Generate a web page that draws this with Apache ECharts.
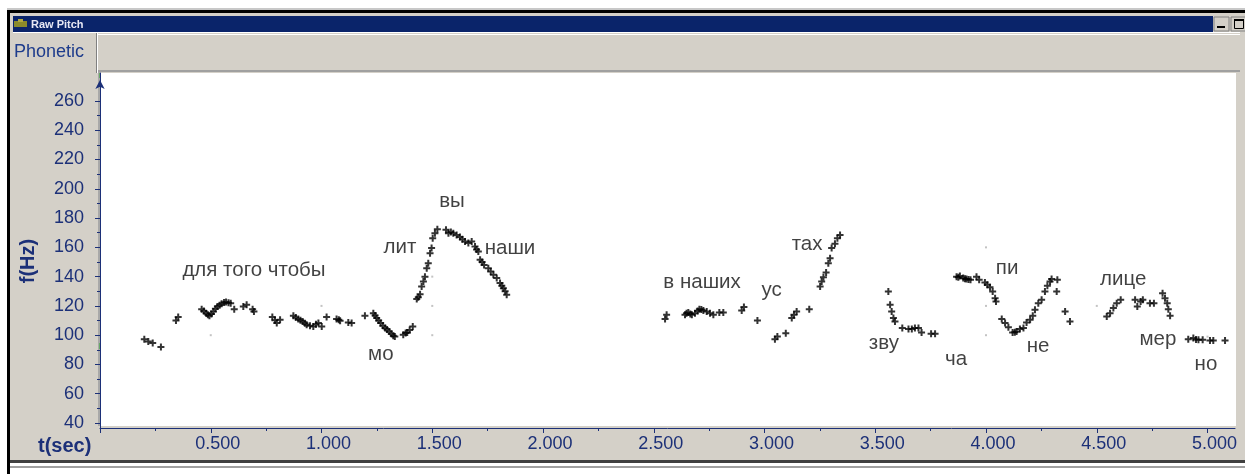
<!DOCTYPE html>
<html><head><meta charset="utf-8">
<script src="https://cdn.jsdelivr.net/npm/echarts@6/dist/echarts.min.js"></script>
<style>html,body{margin:0;padding:0;background:#fff}#c{width:1245px;height:474px}</style>
</head><body><div id="c"></div>
<script>
// ---- axis ticks ----
const xMajorTicks = [0, 0.5, 1.0, 1.5, 2.0, 2.5, 3.0, 3.5, 4.0, 4.5, 5.0];
const xLabelTicks = [0.5, 1.0, 1.5, 2.0, 2.5, 3.0, 3.5, 4.0, 4.5, 5.0];
const xMinorTicks = [0.25, 0.75, 1.25, 1.75, 2.25, 2.75, 3.25, 3.75, 4.25, 4.75];
const yMajorTicks = [40, 60, 80, 100, 120, 140, 160, 180, 200, 220, 240, 260];
const yMinorTicks = [50, 70, 90, 110, 130, 150, 170, 190, 210, 230, 250, 270];

// ---- pitch points [t(sec), f(Hz)] ----
const segA = [[0.200,97.3],[0.218,95.7],[0.238,94.6],[0.275,91.9]];
const segB = [[0.343,110.0],[0.353,112.4]];
const segC = [[0.459,117.8],[0.469,116.5],[0.479,115.0],[0.487,114.0],[0.494,113.2],[0.503,114.5],[0.512,116.2],[0.521,118.0],[0.530,119.6],[0.540,120.5],[0.549,121.4],[0.560,122.3],[0.569,122.6],[0.580,122.2],[0.590,121.9],[0.606,117.8],[0.647,119.6],[0.662,120.8],[0.689,117.8],[0.695,116.2]];
const segD = [[0.778,112.4],[0.790,110.2],[0.798,108.3],[0.813,110.5]];
const segE = [[0.873,113.2],[0.884,112.0],[0.895,111.0],[0.905,110.2],[0.915,109.4],[0.925,108.2],[0.933,107.1],[0.948,106.5],[0.963,106.0],[0.975,107.5],[0.986,108.3],[1.001,106.0],[1.023,112.4]];
const segF = [[1.068,111.0],[1.078,110.5],[1.084,109.8],[1.121,108.7],[1.136,108.3]];
const segG = [[1.196,113.2],[1.234,115.0],[1.242,113.5],[1.249,111.7],[1.258,110.0],[1.267,108.3],[1.277,106.5],[1.287,104.9],[1.296,103.8],[1.306,102.6],[1.315,101.0],[1.324,99.6],[1.331,99.1],[1.369,100.3],[1.380,101.5],[1.387,101.8],[1.398,103.5],[1.412,105.9]];
const segH = [[1.430,124.7],[1.437,126.0],[1.445,128.0],[1.452,133.3],[1.460,136.7],[1.467,140.0],[1.475,145.8],[1.482,149.2],[1.490,156.0],[1.497,159.5],[1.502,166.3],[1.512,169.7],[1.523,172.4],[1.562,172.0],[1.573,169.7],[1.584,170.5],[1.595,169.7],[1.610,168.5],[1.625,167.0],[1.636,165.5],[1.648,164.0],[1.663,162.9],[1.678,164.0],[1.693,160.5],[1.700,158.5],[1.708,157.1],[1.716,151.5],[1.725,150.0],[1.734,148.0],[1.753,145.8],[1.764,143.5],[1.776,141.2],[1.791,139.0],[1.806,135.6],[1.814,133.8],[1.821,132.1],[1.829,130.0],[1.836,127.6]];
const segI = [[2.551,111.0],[2.558,113.9],[2.641,113.9],[2.648,115.0],[2.656,115.5],[2.665,114.5],[2.672,114.0],[2.686,115.0],[2.698,116.5],[2.706,117.8],[2.715,117.5],[2.724,116.9],[2.739,116.2],[2.754,115.0],[2.769,113.9],[2.796,115.5],[2.814,115.5],[2.897,116.9],[2.907,119.2]];
const segJ = [[2.968,110.0],[3.047,97.3],[3.058,99.1],[3.096,101.4],[3.123,111.7],[3.133,113.9],[3.145,116.2],[3.202,117.8],[3.251,133.3],[3.258,136.7],[3.266,139.6],[3.278,142.8],[3.288,149.2],[3.296,152.6],[3.303,159.5],[3.318,162.4],[3.329,166.3],[3.341,168.5]];
const segK = [[3.559,129.8],[3.567,120.8],[3.574,116.2],[3.582,111.7],[3.589,109.4],[3.622,104.9],[3.650,104.2],[3.665,104.2],[3.679,104.9],[3.695,104.9],[3.709,101.8],[3.752,101.0],[3.770,101.0]];
const segL = [[3.867,140.0],[3.875,139.5],[3.882,140.5],[3.897,139.0],[3.905,138.5],[3.912,138.3],[3.921,138.0],[3.930,137.8],[3.957,140.0],[3.969,137.8],[3.995,136.0],[4.006,134.4],[4.018,132.8],[4.030,129.8],[4.041,125.3],[4.045,123.0],[4.071,111.0],[4.086,108.3],[4.101,105.5],[4.120,101.8],[4.130,102.0],[4.138,102.5],[4.153,104.2],[4.169,104.9],[4.183,108.7],[4.199,110.5],[4.211,113.2],[4.221,117.3],[4.236,121.9],[4.251,124.2],[4.266,129.8],[4.277,133.7],[4.289,136.7],[4.296,138.3],[4.322,137.8],[4.319,129.8],[4.357,116.2],[4.379,109.4]];
const segM = [[4.545,112.8],[4.560,115.0],[4.575,118.5],[4.590,121.9],[4.608,124.2],[4.673,124.2],[4.683,119.6],[4.698,123.0],[4.708,124.2],[4.740,121.9],[4.758,121.9],[4.797,128.7],[4.808,125.3],[4.818,121.9],[4.823,117.8],[4.831,113.2]];
const segN = [[4.913,97.3],[4.936,98.0],[4.948,97.0],[4.959,96.9],[4.978,96.9],[5.011,96.4],[5.026,96.4],[5.079,96.4]];
const faintPoints = [[0.5,100],[1.0,120],[1.5,100],[1.5,120],[1.5,140],[4.0,100],[4.0,120],[4.0,160],[4.5,120],[5.0,99]];

// ---- phonetic annotations ----
const wordTexts = ['для того чтобы','мо','лит','вы','наши','в наших','ус','тах','зву','ча','пи','не','лице','мер','но'];
const wordTimes = [0.695,1.268,1.354,1.589,1.851,2.718,3.032,3.192,3.539,3.865,4.095,4.235,4.619,4.776,4.993];
const wordHz    = [144.6,86.6,160.3,191.7,159.6,136.4,130.3,162.3,94.1,83.8,146.0,92.1,138.4,97.5,80.4];

const NAVY = '#1c3078';
const FONT = '"Liberation Sans", Arial, sans-serif';
const allPoints = [].concat(segA,segB,segC,segD,segE,segF,segG,segH,segI,segJ,segK,segL,segM,segN);
const plus = 'path://M2.5,0h2v2.5h2.5v2h-2.5v2.5h-2v-2.5h-2.5v-2h2.5z';

const chart = echarts.init(document.getElementById('c'), null, {renderer:'canvas'});
const bgZ = -10;
chart.setOption({
  backgroundColor: '#ffffff',
  animation: false,
  grid: {left: 100, right: 10, top: 73, bottom: 46, containLabel: false},
  xAxis: [{
    type: 'value', min: 0, max: 5.124, position: 'bottom',
    axisLine: {show: true, lineStyle: {color: NAVY, width: 1}},
    axisTick: {show: true, customValues: xMajorTicks, length: 5, lineStyle: {color: NAVY}},
    axisLabel: {show: true, customValues: xLabelTicks, margin: 7, color: NAVY, fontSize: 18, fontFamily: FONT,
      padding: [0, 0, 0, 14], formatter: v => Number(v).toFixed(3)},
    splitLine: {show: false}
  }, {
    type: 'value', min: 0, max: 5.124, position: 'bottom',
    axisLine: {show: false},
    axisTick: {show: true, customValues: xMinorTicks, length: 3, lineStyle: {color: NAVY}},
    axisLabel: {show: false}, splitLine: {show: false}
  }],
  yAxis: [{
    type: 'value', min: 36.6, max: 279.1, position: 'left', offset: 8,
    name: 'f(Hz)', nameLocation: 'middle', nameRotate: 90, nameGap: 54,
    nameTextStyle: {color: NAVY, fontSize: 20, fontWeight: 'bold', fontFamily: FONT, padding: [0, 21, 0, 0]},
    axisLine: {show: true, symbol: ['none', 'arrow'], symbolSize: [7, 9], symbolOffset: [0, -7], lineStyle: {color: NAVY, width: 1}},
    axisTick: {show: true, customValues: yMajorTicks, length: 5, lineStyle: {color: NAVY}},
    axisLabel: {show: true, customValues: yMajorTicks, margin: 8, color: NAVY, fontSize: 18, fontFamily: FONT},
    splitLine: {show: false}
  }, {
    type: 'value', min: 36.6, max: 279.1, position: 'left', offset: 8,
    axisLine: {show: false},
    axisTick: {show: true, customValues: yMinorTicks, length: 3, lineStyle: {color: NAVY}},
    axisLabel: {show: false}, splitLine: {show: false}
  }],
  graphic: {elements: [
    {type:'rect', z:bgZ, shape:{x:7,y:8,width:1238,height:2}, style:{fill:'#c8c8c8'}},
    {type:'rect', z:bgZ, shape:{x:7,y:10,width:1238,height:3}, style:{fill:'#000'}},
    {type:'rect', z:bgZ, shape:{x:7,y:10,width:3,height:464}, style:{fill:'#000'}},
    {type:'rect', z:bgZ, shape:{x:10,y:13,width:1235,height:461}, style:{fill:'#d4d0c8'}},
    {type:'rect', z:bgZ, shape:{x:13,y:16,width:1200,height:16}, style:{fill:'#0a246a'}},
    {type:'rect', z:bgZ+1, shape:{x:14,y:21,width:13,height:6}, style:{fill:'#8a8a2a'}},
    {type:'rect', z:bgZ+1, shape:{x:18,y:19,width:5,height:3}, style:{fill:'#b0a840'}},
    {type:'text', z:bgZ+1, x:31, y:24.5, style:{text:'Raw Pitch', fill:'#e8e8f4', font:'bold 11px '+FONT, verticalAlign:'middle', align:'left'}},
    {type:'rect', z:bgZ+1, shape:{x:1214,y:17,width:15,height:14}, style:{fill:'#d4d0c8', stroke:'#808080', lineWidth:1}},
    {type:'rect', z:bgZ+2, shape:{x:1217,y:26,width:8,height:2}, style:{fill:'#000'}},
    {type:'rect', z:bgZ+1, shape:{x:1231,y:17,width:15,height:14}, style:{fill:'#d4d0c8', stroke:'#808080', lineWidth:1}},
    {type:'rect', z:bgZ+2, shape:{x:1234.5,y:19.5,width:9,height:9}, style:{fill:'none', stroke:'#000', lineWidth:1}},
    {type:'rect', z:bgZ+2, shape:{x:1234,y:19,width:10,height:2}, style:{fill:'#000'}},
    // phonetic row
    {type:'rect', z:bgZ+1, shape:{x:13,y:32,width:1227,height:1}, style:{fill:'#ffffff'}},
    {type:'text', z:bgZ+1, x:14, y:52, style:{text:'Phonetic', fill:'#1e3c8c', font:'18px '+FONT, verticalAlign:'middle', align:'left'}},
    {type:'rect', z:bgZ+1, shape:{x:96,y:33,width:1,height:40}, style:{fill:'#808080'}},
    {type:'rect', z:bgZ+1, shape:{x:97,y:33,width:1,height:40}, style:{fill:'#ffffff'}},
    {type:'rect', z:bgZ+1, shape:{x:98,y:34,width:1142,height:1}, style:{fill:'#ffffff'}},
    {type:'rect', z:bgZ+1, shape:{x:98,y:70,width:1142,height:2}, style:{fill:'#a0a0a0'}},
    // plot area
    {type:'rect', z:bgZ+1, shape:{x:98,y:72,width:2,height:354}, style:{fill:'#a8a8a8'}},
    {type:'rect', z:bgZ+1, shape:{x:100,y:73,width:1136,height:353}, style:{fill:'#ffffff'}},
    {type:'rect', z:bgZ+1, shape:{x:99.5,y:73,width:1.5,height:5}, style:{fill:'#22aa22'}},
    {type:'rect', z:bgZ+1, shape:{x:99.5,y:343,width:1.5,height:6}, style:{fill:'#22aa22'}},
    // bottom frame
    {type:'rect', z:bgZ+1, shape:{x:10,y:460,width:1235,height:3}, style:{fill:'#404040'}},
    {type:'rect', z:bgZ+1, shape:{x:10,y:463,width:1235,height:3}, style:{fill:'#ffffff'}},
    {type:'rect', z:bgZ+1, shape:{x:10,y:466,width:1235,height:2}, style:{fill:'#a0a0a0'}},
    {type:'rect', z:bgZ+1, shape:{x:10,y:468,width:1235,height:6}, style:{fill:'#ffffff'}},
    {type:'text', z:bgZ+2, x:38, y:446, style:{text:'t(sec)', fill:NAVY, font:'bold 20px '+FONT, verticalAlign:'middle', align:'left'}}
  ]},
  series: [{
    type: 'scatter', name: 'faint', data: faintPoints, symbol: 'rect', symbolSize: 2,
    itemStyle: {color: '#b4b4b4'}, silent: true, z: 2
  }, {
    type: 'scatter', name: 'pitch', data: allPoints, symbol: plus, symbolSize: 7,
    itemStyle: {color: '#000'}, silent: true, z: 3
  }, {
    type: 'scatter', name: 'words', symbolSize: 0, silent: true, z: 4,
    data: wordTexts.map((w, i) => ({name: w, value: [wordTimes[i], wordHz[i]]})),
    label: {show: true, position: 'inside', formatter: p => p.name, color: '#111111', fontSize: 20.5, fontFamily: FONT}
  }]
});
</script></body></html>
